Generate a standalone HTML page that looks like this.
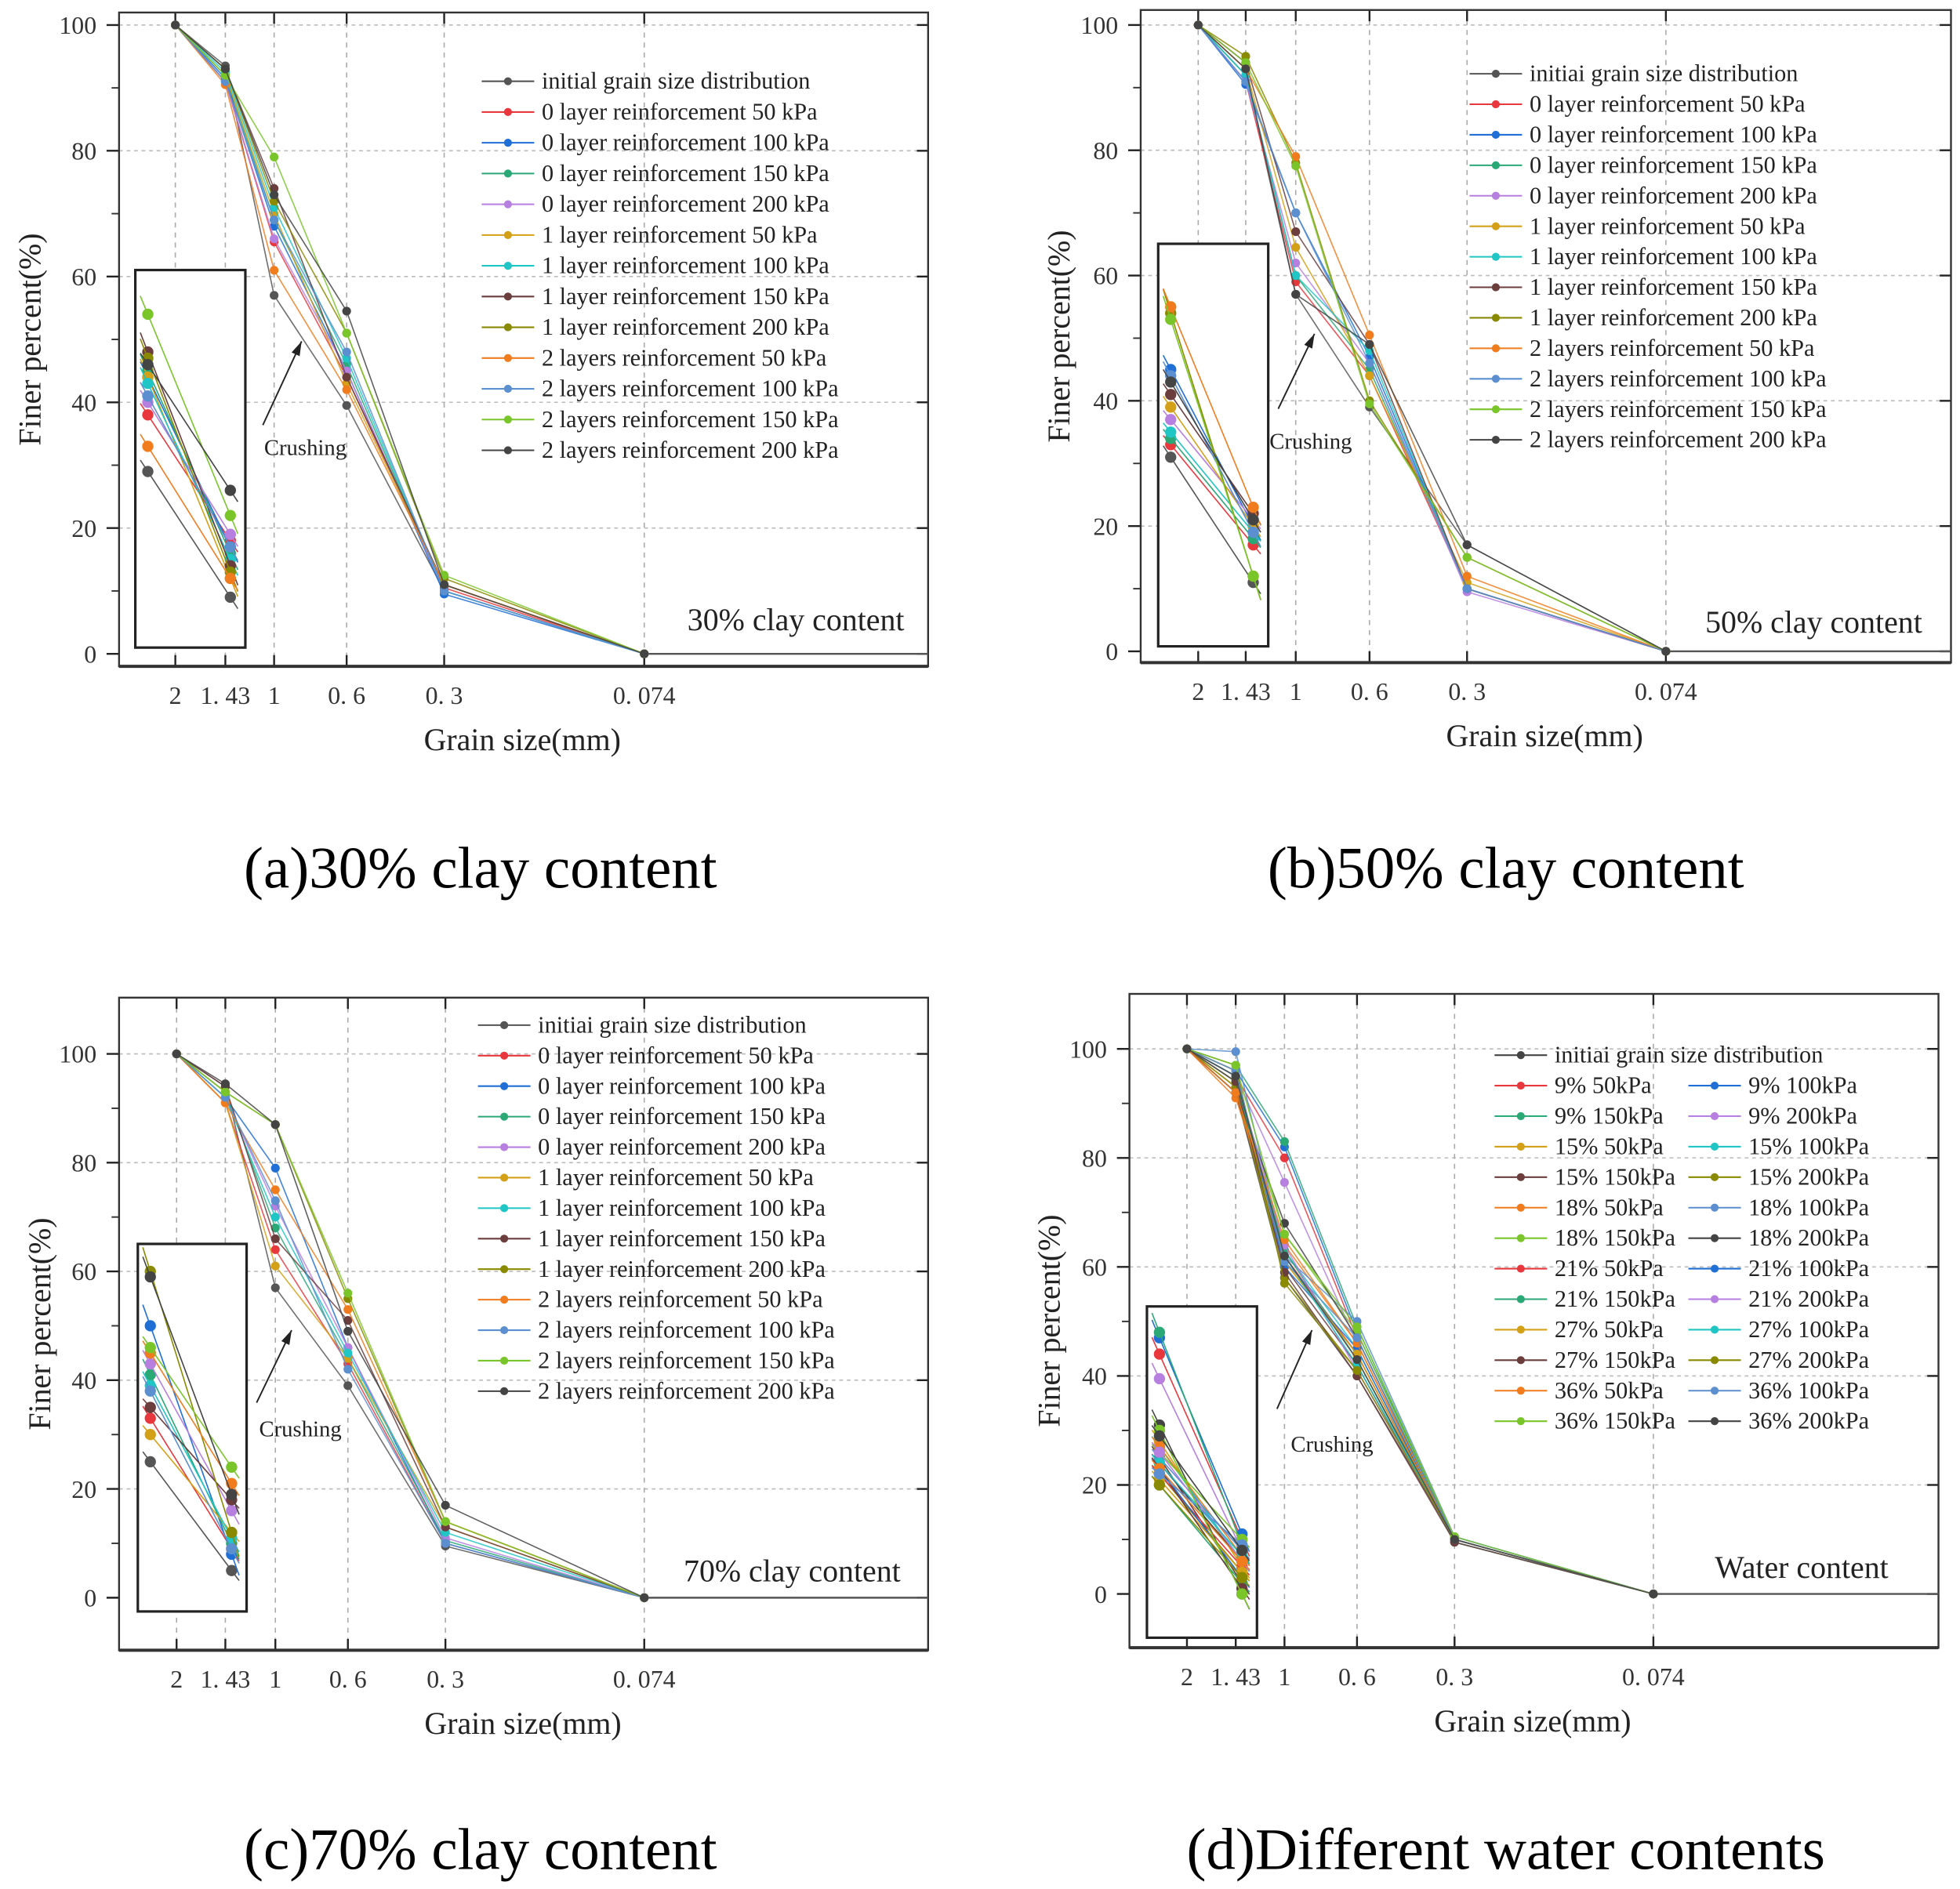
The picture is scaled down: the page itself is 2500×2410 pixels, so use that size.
<!DOCTYPE html>
<html><head><meta charset="utf-8"><style>
html,body{margin:0;padding:0;background:#fff;}
svg{display:block;}
svg text{font-family:"Liberation Serif","Noto Serif CJK SC",serif;}
</style></head><body>
<svg id="fig" width="2500" height="2410" viewBox="0 0 1567 1511" font-family="Liberation Serif, serif" xmlns="http://www.w3.org/2000/svg"></svg>
<script>
const xLabels=['2','1. 43','1','0. 6','0. 3','0. 074'];
const yTicks=[0,20,40,60,80,100];
const colors12=['#555','#e8383d','#1f6fd6','#2aa876','#b67fe0','#d4a017','#20c5c5','#6b3d3d','#8a8a00','#f07c1e','#5b8fd0','#7ac62a','#444'];
const namesABC=['0 layer reinforcement 50 kPa','0 layer reinforcement 100 kPa','0 layer reinforcement 150 kPa','0 layer reinforcement 200 kPa','1 layer reinforcement 50 kPa','1 layer reinforcement 100 kPa','1 layer reinforcement 150 kPa','1 layer reinforcement 200 kPa','2 layers reinforcement 50 kPa','2 layers reinforcement 100 kPa','2 layers reinforcement 150 kPa','2 layers reinforcement 200 kPa'];
const seriesA=[[100,93.5,57,39.5,10,0],[100,91,65.5,44,10.5,0],[100,91.5,68,45,9.5,0],[100,92,69,46,10,0],[100,91,66,45,10,0],[100,92,70,43,11,0],[100,92.5,71,47,10,0],[100,93,74,44,11,0],[100,93,72,51,12,0],[100,90.5,61,42,11,0],[100,91,69,48,10,0],[100,92,79,51,12.5,0],[100,93,73,54.5,11,0]];
const insetStartA=[29,38,44,45,40,44,43,48,47,33,41,54,46];
const insetEndA=[9,18,17,16,19,12,15,14,13,12,17,22,26];
const seriesB=[[100,92,57,39,17,0],[100,91,59,44,10,0],[100,90.5,70,47,10,0],[100,92,60,45,10,0],[100,91,62,46,9.5,0],[100,93,64.5,44,11,0],[100,92,60,48,10,0],[100,94,67,49,10,0],[100,95,78,40,15,0],[100,93,79,50.5,12,0],[100,91,70,46,10,0],[100,94,77.5,39.5,15,0],[100,93,57,49,17,0]];
const insetStartB=[31,33,45,34,37,39,35,41,54,55,44,53,43];
const insetEndB=[11,17,20,18,21,20,19,22,12,23,19,12,21];
const seriesC=[[100,94,57,39,9.5,0],[100,91,64,43,10,0],[100,92,79,46,10,0],[100,93,68,44,10.5,0],[100,92,72,46,11,0],[100,91,61,44,13,0],[100,92,70,45,12,0],[100,94,66,51,13,0],[100,93,87,55,14,0],[100,91,75,53,14,0],[100,92,73,42,10,0],[100,93,87,56,14,0],[100,94.5,87,49,17,0]];
const insetStartC=[25,33,50,41,43,30,39,35,60,45,38,46,59];
const insetEndC=[5,9,8,10,16,12,11,18,12,21,9,24,19];
const namesD=['9% 50kPa','9% 100kPa','9% 150kPa','9% 200kPa','15% 50kPa','15% 100kPa','15% 150kPa','15% 200kPa','18% 50kPa','18% 100kPa','18% 150kPa','18% 200kPa','21% 50kPa','21% 100kPa','21% 150kPa','21% 200kPa','27% 50kPa','27% 100kPa','27% 150kPa','27% 200kPa','36% 50kPa','36% 100kPa','36% 150kPa','36% 200kPa'];
const colorsD=['#e8383d','#1f6fd6','#2aa876','#b67fe0','#d4a017','#20c5c5','#6b3d3d','#8a8a00','#f07c1e','#5b8fd0','#7ac62a','#444','#e8383d','#1f6fd6','#2aa876','#b67fe0','#d4a017','#20c5c5','#6b3d3d','#8a8a00','#f07c1e','#5b8fd0','#7ac62a','#444'];
const colorsDall=['#444'].concat(colorsD);
const seriesD=[[100,92,58,40,10,0],[100,95,80,47,10,0],[100,96,82,48,10.5,0],[100,97,83,49,10,0],[100,95,75.5,46,10,0],[100,93,61,44,10,0],[100,94,63,45,10,0],[100,92,60,42,9.5,0],[100,93,58,41,10,0],[100,91,64,46,10,0],[100,99.5,62,50,10.5,0],[100,94,66,48,10,0],[100,92,68,47,10,0],[100,95,62,44,10,0],[100,96,60,45,10,0],[100,94,63,43,9.5,0],[100,95,64,41,10,0],[100,96,61,44,10,0],[100,95,62,42,10,0],[100,94,59,40,9.5,0],[100,97,57,41,10,0],[100,92,65,46,10,0],[100,96,61,47,10,0],[100,97,66,49,10.5,0],[100,95,62,43,10,0]];
const insetStartD=[31,44,47,48,39.5,28,27,25,22,27,25,26,24,22,23,20,26,21,24,23,20,23,22,30,29];
const insetEndD=[0,10,11,9,8,5,6,2,4,7,8,10,6,5,3,2,6,4,7,1,3,6,9,0,8];

const NS='http://www.w3.org/2000/svg';
const svg=document.getElementById('fig');
function mk(tag,attrs,parent){const e=document.createElementNS(NS,tag);for(const k in attrs)e.setAttribute(k,attrs[k]);(parent||svg).appendChild(e);return e;}
function txt(s,attrs,parent){attrs['font-family']='Liberation Serif, serif';const e=mk('text',attrs,parent);e.textContent=s;return e;}

function panel(P,series,inS,inE,names,colors,legendFn){
  const g=mk('g',{});
  
  
  const yS=v=>P.y0+(P.y100-P.y0)*v/100;
  const xS=i=>P.xs[i];
  yTicks.forEach(v=>{if(v>0){const l=mk('line',{x1:P.fx1,x2:P.fx2,y1:yS(v),y2:yS(v),stroke:'#bbb','stroke-width':1,'stroke-dasharray':'3,3'},g);}});
  [10,30,50,70,90].forEach(v=>{mk('line',{x1:P.fx1,x2:P.fx1-6,y1:yS(v),y2:yS(v),stroke:'#333','stroke-width':1.2},g);});
  P.xs.forEach((x,i)=>{const l=mk('line',{x1:x,x2:x,y1:P.fy1,y2:P.fy2,stroke:'#aaa','stroke-width':1,'stroke-dasharray':'4,4'},g);
    mk('line',{x1:x,x2:x,y1:P.fy1,y2:P.fy1+9,stroke:'#222','stroke-width':1.5},g);
    mk('line',{x1:x,x2:x,y1:P.fy2,y2:P.fy2-9,stroke:'#222','stroke-width':1.5},g);
    const t=txt(xLabels[i],{x:x,y:P.fy2+30,'font-size':20,'text-anchor':'middle',fill:'#333'},g);});
  yTicks.forEach(v=>{mk('line',{x1:P.fx1,x2:P.fx1-10,y1:yS(v),y2:yS(v),stroke:'#222','stroke-width':1.5},g);mk('line',{x1:P.fx2,x2:P.fx2-9,y1:yS(v),y2:yS(v),stroke:'#222','stroke-width':1.5},g);
    const t=txt(String(v),{x:P.fx1-18,y:yS(v)+7,'font-size':20,'text-anchor':'end',fill:'#333'},g);});
  const fr=mk('rect',{x:P.fx1,y:P.fy1,width:P.fx2-P.fx1,height:P.fy2-P.fy1,fill:'none',stroke:'#333','stroke-width':1.5},g);
  
  mk('line',{x1:P.fx1,x2:P.fx2,y1:P.fy2,y2:P.fy2,stroke:'#333','stroke-width':2.5},g);
  mk('line',{x1:P.xs[5],x2:P.fx2,y1:yS(0),y2:yS(0),stroke:'#555','stroke-width':1.5},g);
  series.forEach((s,k)=>{
    const pts=s.map((v,i)=>xS(i)+','+yS(v)).join(' ');
    const pl=mk('polyline',{points:pts,fill:'none',stroke:colors[k],'stroke-width':1,'stroke-opacity':0.85},g);
    
    s.forEach((v,i)=>{const c=mk('circle',{cx:xS(i),cy:yS(v),r:3.5,fill:colors[k]},g);});
  });
  const ib=mk('rect',{x:P.ix1,y:P.iy1,width:P.ix2-P.ix1,height:P.iy2-P.iy1,fill:'#fff',stroke:'#222','stroke-width':2},g);
  
  const lx=P.ix1+10,rx=P.ix2-12;
  inS.forEach((v,k)=>{
    const y1=yS(v),y2=yS(inE[k]);
    const l=mk('line',{x1:lx-6,y1:y1-(y2-y1)*6/(rx-lx),x2:rx+6,y2:y2+(y2-y1)*6/(rx-lx),stroke:colors[k],'stroke-width':1},g);
    
    mk('circle',{cx:lx,cy:y1,r:4.5,fill:colors[k]},g);
    mk('circle',{cx:rx,cy:y2,r:4.5,fill:colors[k]},g);
  });
  const a=mk('line',{x1:P.ax1,y1:P.ay1,x2:P.ax2,y2:P.ay2,stroke:'#222','stroke-width':1.2},g);
  
  const ang=Math.atan2(P.ay2-P.ay1,P.ax2-P.ax1);
  const h=(d,o)=>(P.ax2-12*Math.cos(ang+o))+','+(P.ay2-12*Math.sin(ang+o));
  mk('polygon',{points:P.ax2+','+P.ay2+' '+h(0,0.3)+' '+h(0,-0.3),fill:'#222'},g);
  const ct=txt('Crushing',{x:P.cx,y:P.cy,'font-size':18,fill:'#222'},g);
  const an=txt(P.note,{x:P.nx,y:P.ny,'font-size':25,'text-anchor':'end',fill:'#222'},g);
  const yt=txt('Finer percent(%)',{x:0,y:0,'font-size':25,'text-anchor':'middle',fill:'#222',transform:'translate('+P.ytx+','+((P.fy1+P.fy2)/2)+') rotate(-90)'},g);
  const xt=txt('Grain size(mm)',{x:(P.xs[0]+P.xs[5])/2+90,y:P.fy2+67,'font-size':25,'text-anchor':'middle',fill:'#222'},g);
  const cp=txt(P.caption,{x:P.capx,y:P.capy,'font-size':47,'text-anchor':'middle',fill:'#000'},g);
  legendFn(g);
}
function legendEntry(g,x,y,name,color){
  const l=mk('line',{x1:x,x2:x+42,y1:y,y2:y,stroke:color,'stroke-width':1.3},g);
  
  mk('circle',{cx:x+21,cy:y,r:3.2,fill:color},g);
  const t=txt(name,{x:x+48,y:y+6,'font-size':19,fill:'#222'},g);
  
}
function legend12(x,y0,step,first){return g=>{[first].concat(namesABC).forEach((n,k)=>legendEntry(g,x,y0+k*step,n,colors12[k]));};}

panel({id:'panel-a',xs:[140,180,219,277,355,515],y0:523,y100:20,fx1:95,fx2:742,fy1:10,fy2:533,ix1:108,ix2:196,iy1:216,iy2:518,ax1:210,ay1:340,ax2:241,ay2:273,cx:211,cy:364,note:'30% clay content',nx:723,ny:504,ytx:32,caption:'(a)30% clay content',capx:384,capy:710},
  seriesA,insetStartA,insetEndA,namesABC,colors12,legend12(385,65,24.6,'initial grain size distribution'));
panel({id:'panel-b',xs:[958,996,1036,1095,1173,1332],y0:521,y100:20,fx1:912,fx2:1560,fy1:8,fy2:530,ix1:926,ix2:1014,iy1:195,iy2:517,ax1:1022,ay1:327,ax2:1051,ay2:267,cx:1015,cy:359,note:'50% clay content',nx:1537,ny:506,ytx:855,caption:'(b)50% clay content',capx:1204,capy:710},
  seriesB,insetStartB,insetEndB,namesABC,colors12,legend12(1175,59,24.4,'initiai grain size distribution'));
panel({id:'panel-c',xs:[141,180,220,278,356,515],y0:1278,y100:843,fx1:95,fx2:742,fy1:798,fy2:1320,ix1:110,ix2:197,iy1:995,iy2:1289,ax1:205,ay1:1122,ax2:233,ay2:1064,cx:207,cy:1149,note:'70% clay content',nx:720,ny:1265,ytx:40,caption:'(c)70% clay content',capx:384,capy:1495},
  seriesC,insetStartC,insetEndC,namesABC,colors12,legend12(382,820,24.4,'initiai grain size distribution'));
panel({id:'panel-d',xs:[949,988,1027,1085,1163,1322],y0:1275,y100:839,fx1:903,fx2:1550,fy1:795,fy2:1318,ix1:917,ix2:1005,iy1:1045,iy2:1310,ax1:1021,ay1:1127,ax2:1049,ay2:1064,cx:1032,cy:1161,note:'Water content',nx:1510,ny:1262,ytx:847,caption:'(d)Different water contents',capx:1204,capy:1495},
  seriesD,insetStartD,insetEndD,['initial'].concat(namesD),colorsDall,
  g=>{legendEntry(g,1195,844,'initiai grain size distribution','#444');
    namesD.forEach((n,k)=>{const col=k%2,row=Math.floor(k/2);legendEntry(g,col?1350:1195,868.4+row*24.4,n,colorsD[k]);});});
</script>
</body></html>
